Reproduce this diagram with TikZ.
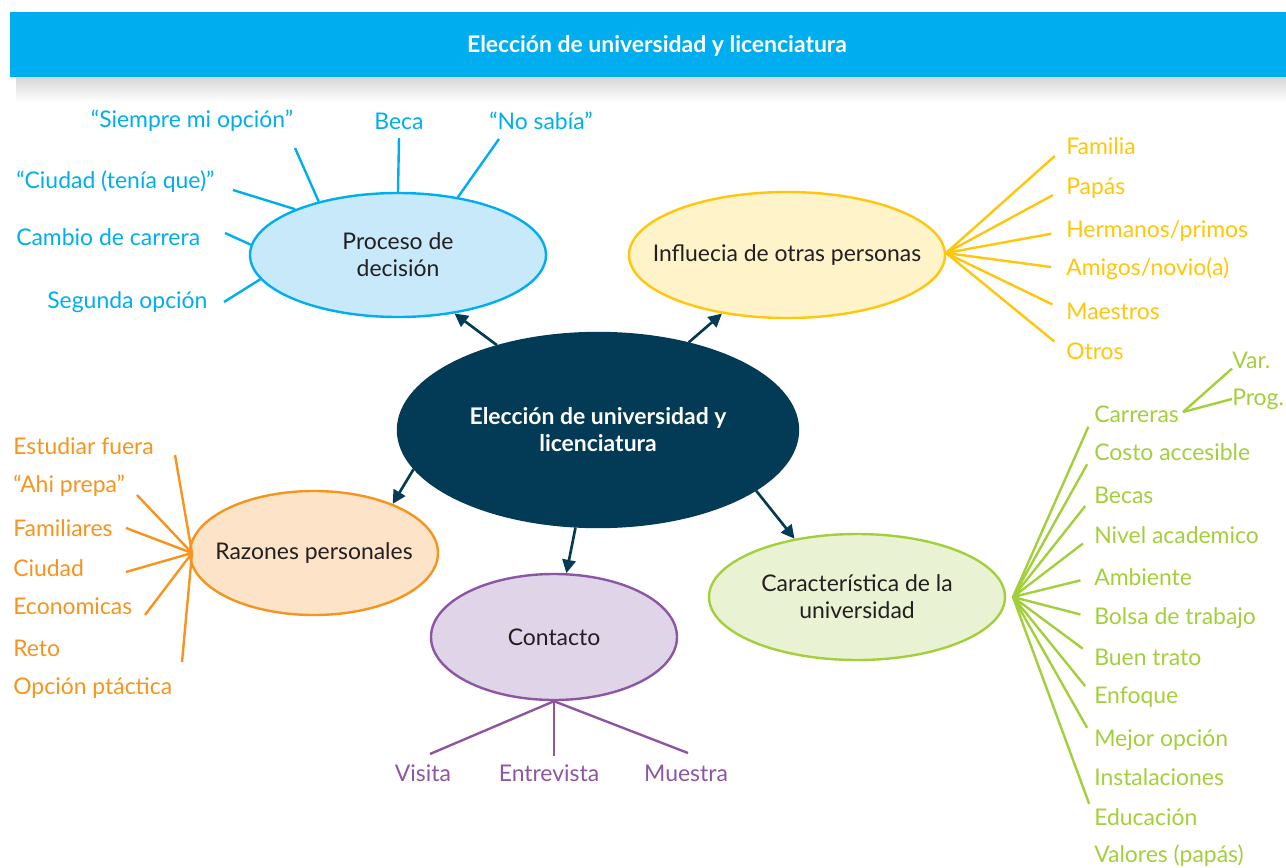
\documentclass[tikz,border=0pt]{standalone}
\usepackage{fontspec}
\setmainfont{Lato}
\usepackage{tikz}
\usetikzlibrary{shapes.geometric,arrows.meta}
\definecolor{navy}{HTML}{033A55}
\definecolor{sky}{HTML}{00AEEF}
\definecolor{skybg}{HTML}{C8E9F9}
\definecolor{gold}{HTML}{FFC60B}
\definecolor{goldbg}{HTML}{FFF3CA}
\definecolor{tang}{HTML}{F7941D}
\definecolor{tangbg}{HTML}{FDE3C8}
\definecolor{plum}{HTML}{8C56A3}
\definecolor{plumbg}{HTML}{DFD4E8}
\definecolor{lime}{HTML}{A3CF3B}
\definecolor{limebg}{HTML}{E9F3D4}
\definecolor{ink}{HTML}{231F20}
\tikzset{
  el/.style={ellipse, draw, line width=1.8pt, inner xsep=-30pt, inner ysep=0pt, align=center,
             text=ink, font=\fontsize{17.2}{20.25}\selectfont},
  lb/.style={anchor=west, inner sep=0pt, font=\fontsize{17.2}{20}\selectfont},
  br/.style={line width=1.8pt},
  ar/.style={-{Triangle[length=10pt, width=10pt]}, line width=2pt, color=navy},
}

\begin{document}
\begin{tikzpicture}[x=0.75pt, y=-0.75pt]
\useasboundingbox (0,0) rectangle (1286,868);
% banner
\shade[top color=black!16, bottom color=white] (16,77) rectangle (1286,102);
\fill[sky] (10,12) rectangle (1286,77);
\node[text=white, font=\fontsize{17.2}{20}\selectfont\bfseries] (title) at (657,46) {Elección de universidad y licenciatura};

% main ellipses
\node[el, fill=navy, draw=navy, text=white, font=\fontsize{17.2}{20.25}\selectfont\bfseries,
      minimum width=300pt, minimum height=145.5pt] (cen) at (598,430) {Elección de universidad y\\licenciatura};
\node[el, fill=skybg, draw=sky, minimum width=222pt, minimum height=93pt] (proc) at (398,255) {Proceso de\\decisión};
\node[el, fill=goldbg, draw=gold, minimum width=237pt, minimum height=94.5pt] (infl) at (787,255) {Influecia de otras personas};
\node[el, fill=tangbg, draw=tang, minimum width=186pt, minimum height=93pt] (raz) at (314,553) {Razones personales};
\node[el, fill=plumbg, draw=plum, minimum width=184.5pt, minimum height=94.5pt] (cont) at (554,637) {Contacto};
\node[el, fill=limebg, draw=lime, minimum width=222pt, minimum height=94.5pt] (car) at (857,597) {Característica de la\\universidad};

\draw[ar] (cen.140.5) -- (proc.-46);
\draw[ar] (cen.44) -- (infl.-138);
\draw[ar] (cen.192.8) -- (raz.32.7);
\draw[ar] (cen.-103) -- (cont.79.5);
\draw[ar] (cen.-21.5) -- (car.137);

% proceso de decision
\node[lb, anchor=center, text=sky] (siempre) at (192,121) {“Siempre mi opción”};
\node[lb, anchor=center, text=sky] (beca) at (399,121) {Beca};
\node[lb, anchor=center, text=sky] (nosabia) at (541,121) {“No sabía”};
\node[lb, text=sky] (ciudad) at (16,182) {“Ciudad (tenía que)”};
\node[lb, text=sky] (cambio) at (16,237) {Cambio de carrera};
\node[lb, text=sky] (segunda) at (47,302) {Segunda opción};
\coordinate (p1) at (295,148); \coordinate (p2) at (399,138); \coordinate (p3) at (499,139);
\coordinate (p4) at (233,190); \coordinate (p5) at (225,233); \coordinate (p6) at (224,302);
\draw[br, sky] (p1) -- (proc.146); \draw[br, sky] (p2) -- (proc.90); \draw[br, sky] (p3) -- (proc.44);
\draw[br, sky] (p4) -- (proc.156.8); \draw[br, sky] (p5) -- (proc.176); \draw[br, sky] (p6) -- (proc.190.5);

% influencia
\coordinate (ih) at (946,253);
\node[lb, text=gold] (fam) at (1066,146) {Familia};
\node[lb, text=gold] (pap) at (1066,188) {Papás};
\node[lb, text=gold] (her) at (1066,231) {Hermanos/primos};
\node[lb, text=gold] (ami) at (1066,269) {Amigos/novio(a)};
\node[lb, text=gold] (mae) at (1066,311) {Maestros};
\node[lb, text=gold] (otr) at (1066,351) {Otros};
\foreach \t in {fam,pap,her,ami,mae,otr}
  \draw[br, gold, shorten >=15pt*0.75] (ih) -- (\t.west);

% caracteristica
\coordinate (ch) at (1013,597);
\node[lb, text=lime] (carr) at (1094,414) {Carreras};
\node[lb, text=lime] (cost) at (1094,452) {Costo accesible};
\node[lb, text=lime] (bec) at (1094,495) {Becas};
\node[lb, text=lime] (niv) at (1094,535) {Nivel academico};
\node[lb, text=lime] (amb) at (1094,577) {Ambiente};
\node[lb, text=lime] (bol) at (1094,618) {Bolsa de trabajo};
\node[lb, text=lime] (bue) at (1094,657) {Buen trato};
\node[lb, text=lime] (enf) at (1094,697) {Enfoque};
\node[lb, text=lime] (mej) at (1094,740) {Mejor opción};
\node[lb, text=lime] (ins) at (1094,777) {Instalaciones};
\node[lb, text=lime] (edu) at (1094,817) {Educación};
\node[lb, text=lime] (val) at (1094,856) {Valores (papás)};
\foreach \t in {carr,cost,bec,niv,amb,bol,bue,enf,mej,edu}
  \draw[br, lime, shorten >=14pt*0.75] (ch) -- (\t.west);
\node[lb, text=lime] (var) at (1232,360) {Var.};
\node[lb, text=lime] (prog) at (1232,399) {Prog.};
\coordinate (cv) at (1183,412);
\draw[br, lime] (cv) -- (var.south west); \draw[br, lime] (cv) -- (prog.west);

% razones
\coordinate (rh) at (192,553);
\node[lb, text=tang] (est) at (13,446) {Estudiar fuera};
\node[lb, text=tang] (ahi) at (13,486) {“Ahi prepa”};
\node[lb, text=tang] (fml) at (13,528) {Familiares};
\node[lb, text=tang] (ciu) at (13,568) {Ciudad};
\node[lb, text=tang] (eco) at (13,606) {Economicas};
\node[lb, text=tang] (ret) at (13,648) {Reto};
\node[lb, text=tang] (opc) at (13,688) {Opción ptáctica};
\coordinate (r1) at (175,455); \coordinate (r2) at (137,495); \coordinate (r3) at (126,528);
\coordinate (r4) at (126,572); \coordinate (r5) at (145,615); \coordinate (r6) at (182,662);
\foreach \c in {r1,r2,r3,r4,r5,r6}
  \draw[br, tang] (\c) -- (rh);

% contacto
\node[lb, anchor=center, text=plum] (vis) at (423,773) {Visita};
\node[lb, anchor=center, text=plum] (ent) at (549,773) {Entrevista};
\node[lb, anchor=center, text=plum] (mue) at (686,773) {Muestra};
\coordinate (c1) at (430,754); \coordinate (c2) at (554,756); \coordinate (c3) at (688,753);
\draw[br, plum] (cont.south) -- (c1); \draw[br, plum] (cont.south) -- (c2); \draw[br, plum] (cont.south) -- (c3);
\end{tikzpicture}
\end{document}
